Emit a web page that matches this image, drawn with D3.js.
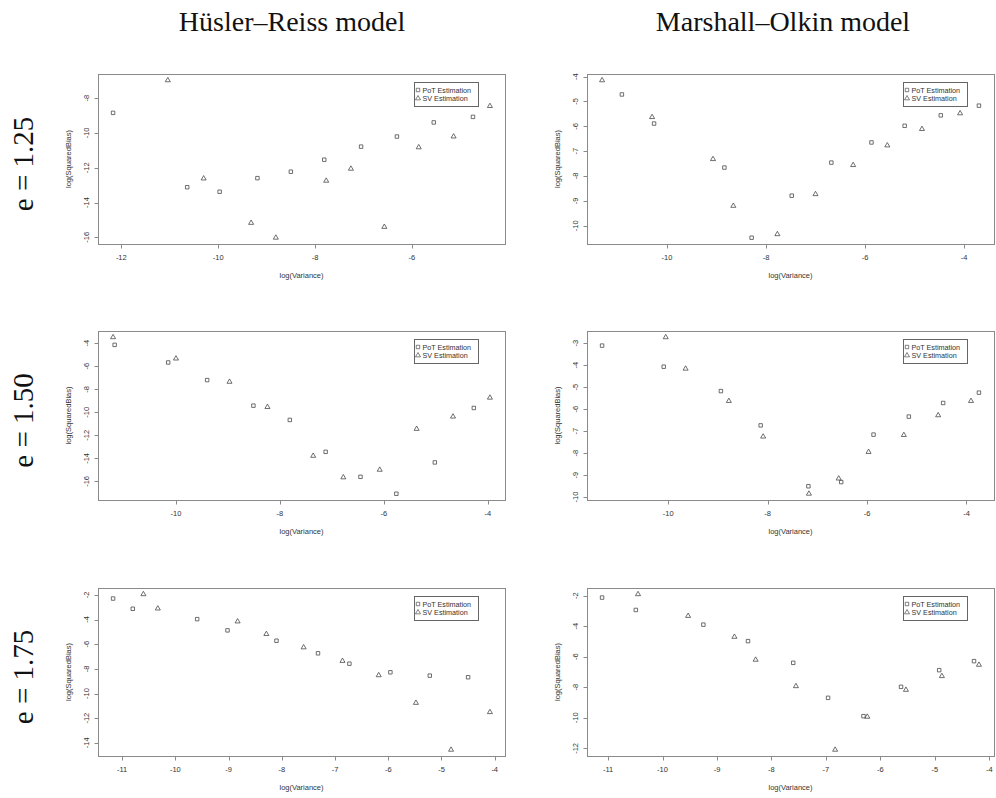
<!DOCTYPE html>
<html>
<head>
<meta charset="utf-8">
<script src="https://cdn.jsdelivr.net/npm/d3@7"></script>
<style>
  html, body { margin: 0; padding: 0; background: #fff; }
  svg { display: block; }
</style>
</head>
<body>
<svg id="chart" width="996" height="798"></svg>
<script>
// ---------- DATA ----------
const columnTitles = ["Hüsler–Reiss model", "Marshall–Olkin model"];
const rowLabels = ["e = 1.25", "e = 1.50", "e = 1.75"];
const legendLabels = ["PoT Estimation", "SV Estimation"];
const xAxisTitle = "log(Variance)";
const yAxisTitle = "log(SquaredBias)";

// Hüsler–Reiss, e = 1.25
const hr125PotX = [-12.17, -10.64, -9.97, -9.19, -8.50, -7.81, -7.05, -6.31, -5.55, -4.74];
const hr125PotY = [-8.85, -13.12, -13.38, -12.60, -12.23, -11.54, -10.79, -10.21, -9.40, -9.08];
const hr125SvX  = [-11.04, -10.30, -9.32, -8.81, -7.77, -7.26, -6.57, -5.86, -5.14, -4.39];
const hr125SvY  = [-6.98, -12.62, -15.17, -16.02, -12.75, -12.06, -15.40, -10.83, -10.21, -8.46];
const hr125XTicks = [-12, -10, -8, -6];
const hr125YTicks = [-16, -14, -12, -10, -8];

// Marshall–Olkin, e = 1.25
const mo125PotX = [-10.91, -10.26, -8.84, -8.29, -7.48, -6.68, -5.87, -5.20, -4.47, -3.70];
const mo125PotY = [-4.72, -5.89, -7.66, -10.48, -8.79, -7.46, -6.65, -5.98, -5.56, -5.17];
const mo125SvX  = [-11.31, -10.30, -9.07, -8.66, -7.77, -7.00, -6.24, -5.55, -4.85, -4.08];
const mo125SvY  = [-4.15, -5.63, -7.32, -9.20, -10.34, -8.73, -7.56, -6.77, -6.11, -5.48];
const mo125XTicks = [-10, -8, -6, -4];
const mo125YTicks = [-10, -9, -8, -7, -6, -5, -4];

// Hüsler–Reiss, e = 1.50
const hr150PotX = [-11.18, -10.15, -9.40, -8.51, -7.81, -7.12, -6.45, -5.76, -5.02, -4.27];
const hr150PotY = [-4.14, -5.67, -7.20, -9.42, -10.66, -13.43, -15.60, -17.07, -14.35, -9.62];
const hr150SvX  = [-11.21, -10.00, -8.97, -8.24, -7.36, -6.78, -6.08, -5.37, -4.67, -3.96];
const hr150SvY  = [-3.48, -5.33, -7.35, -9.54, -13.78, -15.65, -14.99, -11.44, -10.37, -8.73];
const hr150XTicks = [-10, -8, -6, -4];
const hr150YTicks = [-16, -14, -12, -10, -8, -6, -4];

// Marshall–Olkin, e = 1.50
const mo150PotX = [-11.33, -10.09, -8.94, -8.14, -7.18, -6.52, -5.87, -5.16, -4.47, -3.75];
const mo150PotY = [-3.11, -4.07, -5.18, -6.74, -9.51, -9.32, -7.16, -6.34, -5.72, -5.25];
const mo150SvX  = [-10.05, -9.65, -8.78, -8.09, -7.17, -6.57, -5.97, -5.26, -4.57, -3.91];
const mo150SvY  = [-2.73, -4.16, -5.63, -7.25, -9.85, -9.16, -7.95, -7.18, -6.28, -5.63];
const mo150XTicks = [-10, -8, -6, -4];
const mo150YTicks = [-10, -9, -8, -7, -6, -5, -4, -3];

// Hüsler–Reiss, e = 1.75
const hr175PotX = [-11.17, -10.80, -9.59, -9.02, -8.10, -7.32, -6.73, -5.96, -5.22, -4.50];
const hr175PotY = [-2.30, -3.13, -3.97, -4.88, -5.72, -6.74, -7.58, -8.28, -8.55, -8.68];
const hr175SvX  = [-10.60, -10.33, -8.83, -8.29, -7.59, -6.86, -6.18, -5.48, -4.82, -4.09];
const hr175SvY  = [-1.95, -3.11, -4.16, -5.18, -6.26, -7.36, -8.52, -10.76, -14.56, -11.51];
const hr175XTicks = [-11, -10, -9, -8, -7, -6, -5, -4];
const hr175YTicks = [-14, -12, -10, -8, -6, -4, -2];

// Marshall–Olkin, e = 1.75
const mo175PotX = [-11.11, -10.49, -9.25, -8.43, -7.60, -6.96, -6.31, -5.62, -4.92, -4.28];
const mo175PotY = [-2.13, -2.94, -3.90, -4.98, -6.40, -8.69, -9.89, -7.97, -6.88, -6.29];
const mo175SvX  = [-10.45, -9.53, -8.68, -8.29, -7.55, -6.83, -6.24, -5.53, -4.87, -4.19];
const mo175SvY  = [-1.91, -3.33, -4.70, -6.20, -7.93, -12.09, -9.93, -8.17, -7.27, -6.53];
const mo175XTicks = [-11, -10, -9, -8, -7, -6, -5, -4];
const mo175YTicks = [-12, -10, -8, -6, -4, -2];

// ---------- LAYOUT ----------
const colX = [[98, 505], [587, 994]];
const rowY = [[74, 244], [331, 500], [588, 756]];

const panels = [
  {r:0,c:0, px:hr125PotX, py:hr125PotY, sx:hr125SvX, sy:hr125SvY, xt:hr125XTicks, yt:hr125YTicks},
  {r:0,c:1, px:mo125PotX, py:mo125PotY, sx:mo125SvX, sy:mo125SvY, xt:mo125XTicks, yt:mo125YTicks},
  {r:1,c:0, px:hr150PotX, py:hr150PotY, sx:hr150SvX, sy:hr150SvY, xt:hr150XTicks, yt:hr150YTicks},
  {r:1,c:1, px:mo150PotX, py:mo150PotY, sx:mo150SvX, sy:mo150SvY, xt:mo150XTicks, yt:mo150YTicks},
  {r:2,c:0, px:hr175PotX, py:hr175PotY, sx:hr175SvX, sy:hr175SvY, xt:hr175XTicks, yt:hr175YTicks},
  {r:2,c:1, px:mo175PotX, py:mo175PotY, sx:mo175SvX, sy:mo175SvY, xt:mo175XTicks, yt:mo175YTicks}
];

const svg = d3.select("#chart");
const sans = "'Liberation Sans', Arial, sans-serif";
const serif = "'Liberation Serif', 'Times New Roman', serif";
const boxColor = "#8a8a8a";
const markColor = "#4a4a4a";
const textColor = "#333";

function padExtent(vals) {
  const [lo, hi] = d3.extent(vals);
  const p = (hi - lo) * 0.04;
  return [lo - p, hi + p];
}

// column titles
const titleCx = [292, 783];
columnTitles.forEach((t, i) => {
  svg.append("text").attr("x", titleCx[i]).attr("y", 31)
    .attr("text-anchor", "middle").attr("font-family", serif)
    .attr("font-size", 28).attr("fill", "#111").text(t);
});

// row labels
rowLabels.forEach((t, i) => {
  const cy = (rowY[i][0] + rowY[i][1]) / 2 + 5;
  svg.append("text").attr("transform", `translate(33,${cy}) rotate(-90)`)
    .attr("text-anchor", "middle").attr("font-family", serif)
    .attr("font-size", 29).attr("fill", "#111").text(t);
});

const sqSym = d3.symbol().type(d3.symbolSquare).size(12);
const triSym = d3.symbol().type(d3.symbolTriangle).size(11);

panels.forEach(p => {
  const [x0, x1] = colX[p.c];
  const [y0, y1] = rowY[p.r];
  const x = d3.scaleLinear().domain(padExtent(p.px.concat(p.sx))).range([x0, x1]);
  const y = d3.scaleLinear().domain(padExtent(p.py.concat(p.sy))).range([y1, y0]);
  const g = svg.append("g");

  // box
  g.append("rect").attr("x", x0 + 0.5).attr("y", y0 + 0.5)
    .attr("width", x1 - x0).attr("height", y1 - y0)
    .attr("fill", "none").attr("stroke", boxColor).attr("stroke-width", 1);

  // x ticks
  p.xt.forEach(v => {
    const xx = Math.round(x(v)) + 0.5;
    g.append("line").attr("x1", xx).attr("x2", xx).attr("y1", y1 + 0.5).attr("y2", y1 + 4.5)
      .attr("stroke", boxColor).attr("stroke-width", 1);
    g.append("text").attr("x", x(v)).attr("y", y1 + 16)
      .attr("text-anchor", "middle").attr("font-family", sans)
      .attr("font-size", 7.5).attr("fill", textColor).text(v);
  });
  // y ticks
  p.yt.forEach(v => {
    const yy = Math.round(y(v)) + 0.5;
    g.append("line").attr("x1", x0 + 0.5).attr("x2", x0 - 3.5).attr("y1", yy).attr("y2", yy)
      .attr("stroke", boxColor).attr("stroke-width", 1);
    g.append("text").attr("transform", `translate(${x0 - 9},${y(v)}) rotate(-90)`)
      .attr("text-anchor", "middle").attr("font-family", sans)
      .attr("font-size", 7.5).attr("fill", textColor).text(v);
  });

  // axis titles
  g.append("text").attr("x", (x0 + x1) / 2).attr("y", y1 + 34)
    .attr("text-anchor", "middle").attr("font-family", sans)
    .attr("font-size", 7.5).attr("fill", textColor).text(xAxisTitle);
  g.append("text").attr("transform", `translate(${x0 - 27},${(y0 + y1) / 2}) rotate(-90)`)
    .attr("text-anchor", "middle").attr("font-family", sans)
    .attr("font-size", 7.5).attr("fill", textColor).text(yAxisTitle);

  // points
  const pot = d3.zip(p.px, p.py);
  const sv = d3.zip(p.sx, p.sy);
  g.selectAll(".pot").data(pot).join("path")
    .attr("transform", d => `translate(${x(d[0])},${y(d[1])})`)
    .attr("d", sqSym).attr("fill", "none").attr("stroke", markColor).attr("stroke-width", 0.8);
  g.selectAll(".sv").data(sv).join("path")
    .attr("transform", d => `translate(${x(d[0])},${y(d[1])})`)
    .attr("d", triSym).attr("fill", "none").attr("stroke", markColor).attr("stroke-width", 0.8);

  // legend
  const lw = 64, lh = 24;
  const lx = x1 - 27 - lw, ly = y0 + 8;
  g.append("rect").attr("x", Math.round(lx) + 0.5).attr("y", Math.round(ly) + 0.5)
    .attr("width", lw).attr("height", lh)
    .attr("fill", "#fff").attr("stroke", "#666").attr("stroke-width", 1);
  legendLabels.forEach((t, i) => {
    const cy = ly + 8 + i * 8.4;
    g.append("path").attr("transform", `translate(${lx + 4},${cy})`)
      .attr("d", i === 0 ? sqSym : triSym)
      .attr("fill", "none").attr("stroke", markColor).attr("stroke-width", 0.7);
    g.append("text").attr("x", lx + 8.5).attr("y", cy + 2.6)
      .attr("font-family", sans).attr("font-size", 7.2).attr("fill", textColor).text(t);
  });
});
</script>
</body>
</html>
